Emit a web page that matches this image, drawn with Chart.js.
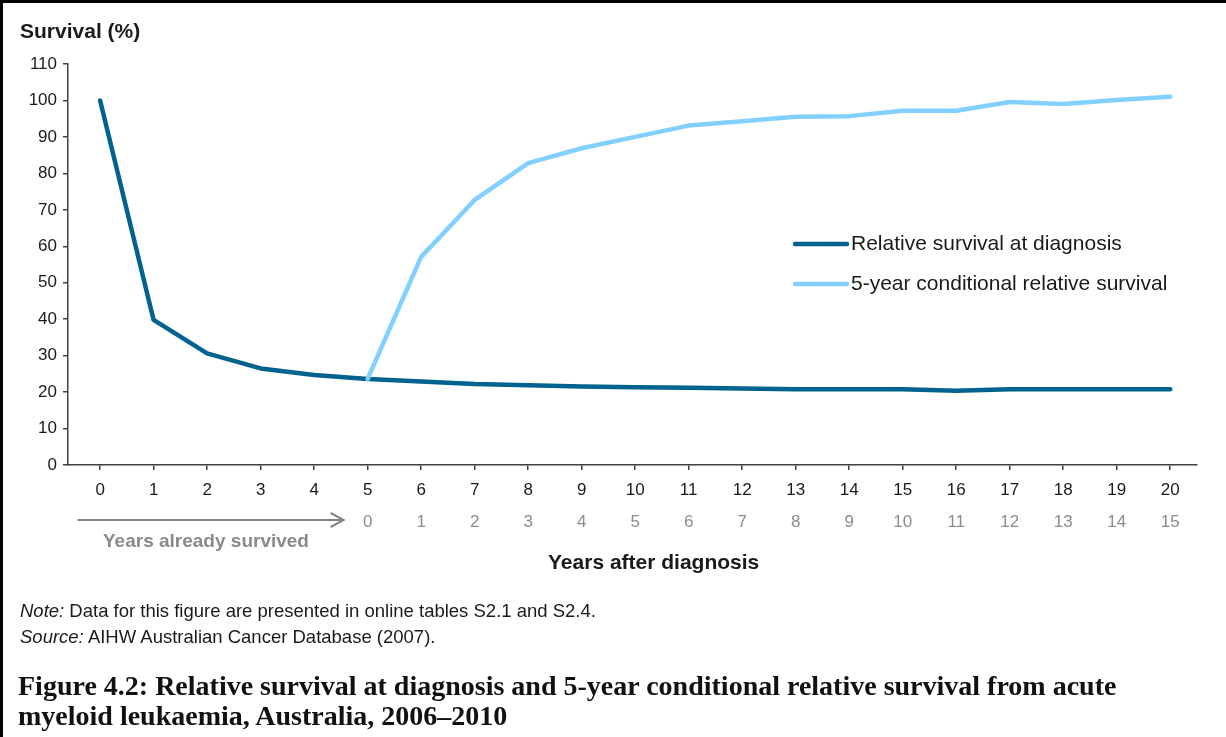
<!DOCTYPE html>
<html>
<head>
<meta charset="utf-8">
<script src="https://cdn.jsdelivr.net/npm/chart.js@4"></script>
<style>
  html, body { margin: 0; padding: 0; background: #fff; }
  #page { position: relative; width: 1226px; height: 737px; overflow: hidden;
          font-family: "Liberation Sans", Arial, sans-serif; color: #1a1a1a; }
  #frame { position: absolute; left: 0; top: 0; width: 1226px; height: 737px;
           border-top: 3px solid #000; border-left: 3px solid #000; box-sizing: border-box; }
  #chart { position: absolute; left: 0; top: 0; }
  .txt { position: absolute; white-space: nowrap; }
  #ytitle { left: 20px; top: 19px; font-size: 21px; font-weight: bold; line-height: 24px; }
  #already { left: 103px; top: 530px; font-size: 19px; font-weight: bold; color: #8a8a8a; line-height: 22px; }
  #xtitle { left: 548px; top: 550px; font-size: 21px; font-weight: bold; line-height: 24px; }
  #note { left: 20px; top: 600px; font-size: 18.5px; line-height: 22px; }
  #source { left: 20px; top: 626px; font-size: 18.5px; line-height: 22px; }
  .cap { left: 18px; font-family: "Liberation Serif", "Times New Roman", serif; font-weight: bold;
         font-size: 28px; line-height: 30px; color: #111; }
  #cap1 { top: 671px; }
  #cap2 { top: 701px; }
</style>
</head>
<body>
<div id="page">
  <canvas id="chart" width="1226" height="600"></canvas>
  <div id="frame"></div>
  <div class="txt" id="ytitle">Survival (%)</div>
  <div class="txt" id="already">Years already survived</div>
  <div class="txt" id="xtitle">Years after diagnosis</div>
  <div class="txt" id="note"><i>Note:</i> Data for this figure are presented in online tables S2.1 and S2.4.</div>
  <div class="txt" id="source"><i>Source:</i> AIHW Australian Cancer Database (2007).</div>
  <div class="txt cap" id="cap1">Figure 4.2: Relative survival at diagnosis and 5-year conditional relative survival from acute</div>
  <div class="txt cap" id="cap2">myeloid leukaemia, Australia, 2006–2010</div>
</div>
<script>
// years after diagnosis (x axis)
const years = [0, 1, 2, 3, 4, 5, 6, 7, 8, 9, 10, 11, 12, 13, 14, 15, 16, 17, 18, 19, 20];
// second tick row: years already survived, shown under years 5..20
const condLabels = ['0', '1', '2', '3', '4', '5', '6', '7', '8', '9', '10', '11', '12', '13', '14', '15'];
const condStart = 5;

const relSurvival = [100, 39.8, 30.6, 26.5, 24.7, 23.6, 22.9, 22.2, 21.9, 21.5, 21.3,
                     21.2, 21.0, 20.8, 20.8, 20.8, 20.4, 20.8, 20.8, 20.8, 20.8];
const condSurvival = [null, null, null, null, null, 23.6, 57.1, 72.7, 82.8, 86.9, 90.0,
                      93.1, 94.3, 95.5, 95.7, 97.2, 97.2, 99.6, 99.0, 100.1, 101.0];

const seriesNames = ['Relative survival at diagnosis', '5-year conditional relative survival'];
const seriesColors = ['#00628f', '#82d0ff'];

const yTicks = [0, 10, 20, 30, 40, 50, 60, 70, 80, 90, 100, 110];

const axisColor = '#404040';
const font = { family: '"Liberation Sans", Arial, sans-serif', size: 17 };

const toPoints = vals => years.map((x, i) => ({ x, y: vals[i] })).filter(p => p.y !== null);

// second row of x labels, arrow and legend
const extras = {
  id: 'extras',
  afterDraw(chart) {
    const ctx = chart.ctx;
    const x = chart.scales.x;
    const area = chart.chartArea;
    ctx.save();

    ctx.font = `${font.size}px ${font.family}`;
    ctx.fillStyle = '#8c8c8c';
    ctx.textAlign = 'center';
    ctx.textBaseline = 'middle';
    condLabels.forEach((lab, i) => {
      ctx.fillText(lab, x.getPixelForValue(condStart + i), area.bottom + 57);
    });

    // arrow
    const ay = area.bottom + 55;
    const x0 = x.getPixelForValue(-0.42);
    const x1 = x.getPixelForValue(condStart) - 24;
    ctx.strokeStyle = '#858585';
    ctx.lineWidth = 2;
    ctx.beginPath();
    ctx.moveTo(x0, ay);
    ctx.lineTo(x1, ay);
    ctx.moveTo(x1 - 13, ay - 7);
    ctx.lineTo(x1, ay);
    ctx.lineTo(x1 - 13, ay + 7);
    ctx.stroke();

    // legend
    ctx.font = `21px ${font.family}`;
    ctx.textAlign = 'left';
    ctx.fillStyle = '#1a1a1a';
    seriesNames.forEach((name, i) => {
      const ly = 244 + i * 40;
      ctx.strokeStyle = seriesColors[i];
      ctx.lineWidth = 4.5;
      ctx.lineCap = 'round';
      ctx.beginPath();
      ctx.moveTo(795, ly);
      ctx.lineTo(847, ly);
      ctx.stroke();
      ctx.fillText(name, 851, ly);
    });
    ctx.restore();
  }
};

new Chart(document.getElementById('chart'), {
  type: 'line',
  data: {
    datasets: [
      {
        label: seriesNames[0],
        data: toPoints(relSurvival),
        borderColor: seriesColors[0],
        borderWidth: 4.5,
        borderCapStyle: 'round',
        borderJoinStyle: 'round',
        pointRadius: 0,
        tension: 0,
        order: 1
      },
      {
        label: seriesNames[1],
        data: toPoints(condSurvival),
        borderColor: seriesColors[1],
        borderWidth: 4.5,
        borderCapStyle: 'round',
        borderJoinStyle: 'round',
        pointRadius: 0,
        tension: 0,
        order: 0
      }
    ]
  },
  options: {
    responsive: false,
    animation: false,
    devicePixelRatio: 1,
    layout: { padding: { top: 64, right: 29, left: 0, bottom: 0 } },
    plugins: {
      legend: { display: false },
      tooltip: { enabled: false }
    },
    scales: {
      x: {
        type: 'linear',
        min: -0.6,
        max: 20.5,
        afterBuildTicks: s => { s.ticks = years.map(v => ({ value: v })); },
        afterFit: s => { s.height = 135; },
        grid: { drawOnChartArea: false, drawTicks: true, tickLength: 5, color: axisColor, lineWidth: 1.5 },
        border: { color: axisColor, width: 1.5 },
        ticks: { color: '#1a1a1a', font, padding: 10, maxRotation: 0, autoSkip: false }
      },
      y: {
        min: 0,
        max: 110,
        afterBuildTicks: s => { s.ticks = yTicks.map(v => ({ value: v })); },
        afterFit: s => { s.width = 68; },
        grid: { drawOnChartArea: false, drawTicks: true, tickLength: 5, color: axisColor, lineWidth: 1.5 },
        border: { color: axisColor, width: 1.5 },
        ticks: { color: '#1a1a1a', font, padding: 6 }
      }
    }
  },
  plugins: [extras]
});
</script>
</body>
</html>
